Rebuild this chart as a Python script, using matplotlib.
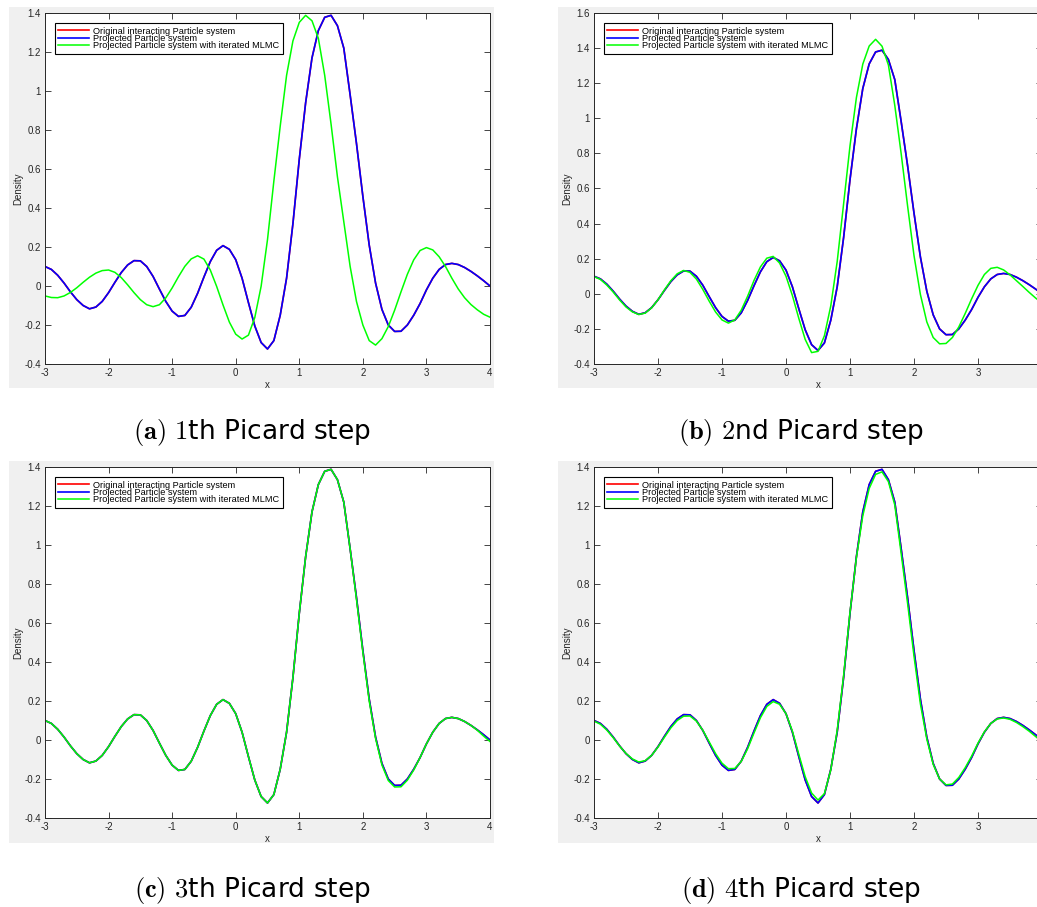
import numpy as np
import matplotlib
matplotlib.use("Agg")
import matplotlib.pyplot as plt
from matplotlib.patches import Rectangle
from matplotlib.ticker import MultipleLocator, FormatStrFormatter

plt.rcParams['font.family'] = ['Liberation Sans', 'DejaVu Sans']
plt.rcParams['mathtext.fontset'] = 'cm'
plt.rcParams['axes.unicode_minus'] = False

# sample positions (x = -3.0, -2.9, ..., 4.0)
x = np.linspace(-3, 4, 71)

# density of the original / projected particle system (same in every panel)
original = [
    0.100, 0.085, 0.055, 0.015, -0.030, -0.070, -0.100, -0.117, -0.108, -0.079,
    -0.034, 0.019, 0.069, 0.108, 0.130, 0.129, 0.100, 0.049, -0.016, -0.079,
    -0.129, -0.156, -0.151, -0.109, -0.038, 0.046, 0.125, 0.183, 0.207, 0.188,
    0.135, 0.040, -0.085, -0.205, -0.290, -0.323, -0.280, -0.150, 0.040, 0.320,
    0.650, 0.940, 1.170, 1.310, 1.378, 1.388, 1.335, 1.220, 0.980, 0.730,
    0.460, 0.210, 0.015, -0.120, -0.200, -0.233, -0.232, -0.200, -0.150, -0.090,
    -0.020, 0.040, 0.085, 0.110, 0.116, 0.110, 0.095, 0.075, 0.052, 0.027, 0.000]
projected = list(original)

# iterated MLMC after each Picard step
mlmc_1 = [
    -0.051, -0.059, -0.060, -0.051, -0.033, -0.009, 0.019, 0.045, 0.066, 0.079,
    0.082, 0.070, 0.043, 0.006, -0.034, -0.070, -0.096, -0.106, -0.096, -0.061,
    -0.010, 0.048, 0.101, 0.139, 0.155, 0.138, 0.082, -0.002, -0.097, -0.185,
    -0.247, -0.272, -0.252, -0.162, -0.001, 0.238, 0.538, 0.820, 1.080, 1.257,
    1.352, 1.388, 1.360, 1.270, 1.080, 0.830, 0.560, 0.330, 0.100, -0.080,
    -0.200, -0.280, -0.303, -0.270, -0.208, -0.124, -0.030, 0.060, 0.134, 0.182,
    0.197, 0.185, 0.150, 0.100, 0.040, -0.015, -0.060, -0.095, -0.122, -0.145, -0.160]
mlmc_2 = [
    0.098, 0.082, 0.050, 0.010, -0.035, -0.075, -0.103, -0.118, -0.110, -0.080,
    -0.034, 0.022, 0.074, 0.114, 0.133, 0.122, 0.084, 0.025, -0.042, -0.104,
    -0.149, -0.167, -0.149, -0.094, -0.014, 0.076, 0.153, 0.203, 0.213, 0.175,
    0.100, -0.010, -0.140, -0.260, -0.335, -0.328, -0.239, -0.068, 0.184, 0.512,
    0.843, 1.118, 1.309, 1.412, 1.450, 1.411, 1.304, 1.073, 0.797, 0.500,
    0.218, -0.004, -0.160, -0.249, -0.285, -0.283, -0.249, -0.189, -0.112, -0.029,
    0.048, 0.110, 0.145, 0.151, 0.136, 0.108, 0.075, 0.042, 0.008, -0.024, -0.053]
mlmc_3 = [
    0.100, 0.085, 0.055, 0.015, -0.030, -0.070, -0.100, -0.117, -0.108, -0.079,
    -0.034, 0.019, 0.069, 0.108, 0.130, 0.129, 0.100, 0.049, -0.016, -0.079,
    -0.129, -0.156, -0.151, -0.109, -0.038, 0.046, 0.125, 0.183, 0.207, 0.188,
    0.135, 0.040, -0.085, -0.205, -0.290, -0.323, -0.280, -0.150, 0.040, 0.320,
    0.650, 0.940, 1.170, 1.310, 1.378, 1.388, 1.335, 1.220, 0.980, 0.720,
    0.450, 0.200, 0.008, -0.128, -0.208, -0.241, -0.240, -0.206, -0.154, -0.090,
    -0.020, 0.040, 0.085, 0.110, 0.116, 0.110, 0.095, 0.075, 0.050, 0.020, -0.008]
mlmc_4 = [
    0.097, 0.081, 0.051, 0.012, -0.031, -0.069, -0.097, -0.113, -0.106, -0.079,
    -0.036, 0.014, 0.062, 0.100, 0.122, 0.123, 0.097, 0.050, -0.010, -0.070,
    -0.119, -0.147, -0.146, -0.110, -0.045, 0.036, 0.114, 0.172, 0.197, 0.183,
    0.135, 0.045, -0.073, -0.188, -0.272, -0.308, -0.275, -0.153, 0.050, 0.330,
    0.655, 0.935, 1.150, 1.290, 1.362, 1.375, 1.325, 1.205, 0.955, 0.700,
    0.430, 0.185, 0.005, -0.125, -0.200, -0.230, -0.226, -0.192, -0.142, -0.083,
    -0.016, 0.042, 0.085, 0.108, 0.113, 0.106, 0.090, 0.069, 0.045, 0.018, -0.010]

labels = ["Original interacting Particle system",
          "Projected Particle system",
          "Projected Particle system with iterated MLMC"]
captions = [r"$\mathbf{(a)}$ $1$th Picard step", r"$\mathbf{(b)}$ $2$nd Picard step",
            r"$\mathbf{(c)}$ $3$th Picard step", r"$\mathbf{(d)}$ $4$th Picard step"]
ylims = [(-0.4, 1.4), (-0.4, 1.6), (-0.4, 1.4), (-0.4, 1.4)]
mlmc_runs = [mlmc_1, mlmc_2, mlmc_3, mlmc_4]

W, H = 1037, 907
fig = plt.figure(figsize=(W / 100, H / 100), dpi=100)


def box(l, t, r, b):
    # pixel box -> figure fraction [left, bottom, width, height]
    return [l / W, 1 - b / H, (r - l) / W, (b - t) / H]


# axes boxes, gray backgrounds, caption centres (pixels)
ax_boxes = [box(45, 13, 490, 364), box(594, 13, 1042, 364),
            box(45, 467, 490, 818), box(594, 467, 1042, 818)]
bg_boxes = [box(9, 7, 494, 388), box(558, 7, 1045, 388),
            box(9, 461, 494, 843), box(558, 461, 1045, 843)]
cap_pos = [(252, 433), (801, 433), (252, 890), (801, 890)]

ink = '#262626'
for i in range(4):
    b = bg_boxes[i]
    fig.patches.append(Rectangle((b[0], b[1]), b[2], b[3], transform=fig.transFigure,
                                 facecolor='#f0f0f0', edgecolor='none', zorder=-5))
    ax = fig.add_axes(ax_boxes[i], zorder=2)
    ax.set_facecolor('white')
    ax.plot(x, original, color='red', lw=1.2, label=labels[0],
            solid_joinstyle='round')
    ax.plot(x, projected, color='blue', lw=1.2, label=labels[1],
            solid_joinstyle='round')
    ax.plot(x, mlmc_runs[i], color='#00ff00', lw=1.1, label=labels[2],
            solid_joinstyle='round')
    ax.set_xlim(-3, 4)
    ax.set_ylim(*ylims[i])
    ax.xaxis.set_major_locator(MultipleLocator(1))
    ax.yaxis.set_major_locator(MultipleLocator(0.2))
    ax.xaxis.set_major_formatter(FormatStrFormatter('%g'))
    ax.yaxis.set_major_formatter(FormatStrFormatter('%g'))
    ax.tick_params(direction='in', top=True, right=True, length=4, width=0.6,
                   colors=ink, labelsize=7, pad=3)
    for s in ax.spines.values():
        s.set_color(ink)
        s.set_linewidth(0.7)
    ax.set_xlabel('x', fontsize=7, color=ink, labelpad=1)
    ax.set_ylabel('Density', fontsize=7, color=ink, labelpad=1)
    w_px = ax_boxes[i][2] * W
    h_px = ax_boxes[i][3] * H
    leg = ax.legend(loc='upper left', bbox_to_anchor=(9.5 / w_px, 1 - 10 / h_px),
                    borderaxespad=0, fontsize=6.6, frameon=True, fancybox=False,
                    framealpha=1, edgecolor='black', borderpad=0.4,
                    labelspacing=-0.2, handlelength=3.4, handletextpad=0.4)
    leg.get_frame().set_linewidth(0.8)
    fig.text(cap_pos[i][0] / W, 1 - cap_pos[i][1] / H, captions[i], ha='center',
             va='center', fontsize=19, family=['DejaVu Sans'])

fig.savefig('out.png', dpi=100)
